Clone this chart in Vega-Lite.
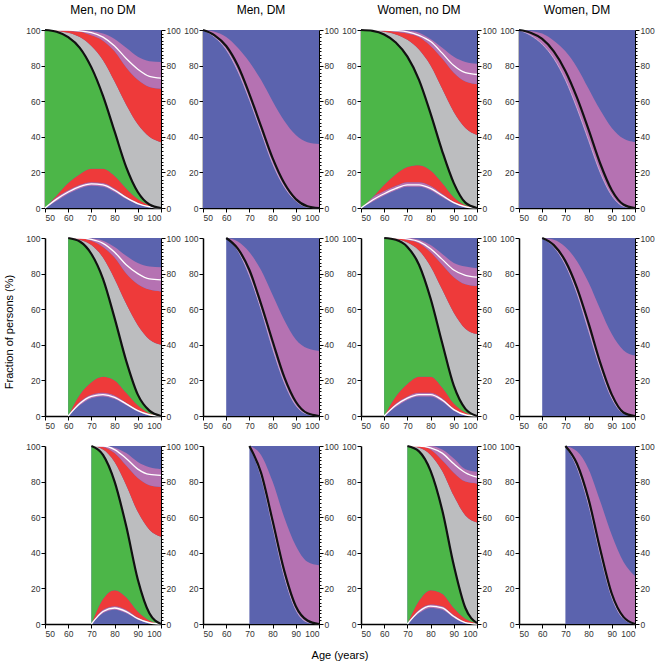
{
  "$schema": "https://vega.github.io/schema/vega-lite/v6.json",
  "background": "white",
  "padding": {"left": 3, "top": 4, "right": 2, "bottom": 2},
  "config": {"font": "Liberation Sans", "view": {"stroke": null}, "axis": {"labelFont": "Liberation Sans", "labelColor": "#333", "labelFontSize": 9, "domainColor": "black", "tickColor": "black", "grid": false, "title": null}},
  "data": {"values": [
    {"g":"Men, no DM","s":50,"x":50,"b1":0,"b2":0,"b3":0,"b4":0,"k":100,"b6":100,"b7":100,"b8":100,"b9":100},
    {"g":"Men, no DM","s":50,"x":55,"b1":4,"b2":5,"b3":6,"b4":7,"k":99,"b6":99.5,"b7":100,"b8":100,"b9":100},
    {"g":"Men, no DM","s":50,"x":60,"b1":8,"b2":9,"b3":10,"b4":14,"k":96,"b6":98.5,"b7":99.5,"b8":100,"b9":100},
    {"g":"Men, no DM","s":50,"x":65,"b1":11,"b2":12,"b3":13,"b4":19,"k":90,"b6":96,"b7":99,"b8":99.5,"b9":100},
    {"g":"Men, no DM","s":50,"x":70,"b1":12.5,"b2":13.5,"b3":14.5,"b4":22,"k":79,"b6":91,"b7":97,"b8":98.5,"b9":99.5},
    {"g":"Men, no DM","s":50,"x":75,"b1":12,"b2":13,"b3":14,"b4":22,"k":63,"b6":83,"b7":94,"b8":96,"b9":98},
    {"g":"Men, no DM","s":50,"x":80,"b1":9,"b2":10,"b3":11,"b4":18,"k":43,"b6":71,"b7":88,"b8":91,"b9":95},
    {"g":"Men, no DM","s":50,"x":85,"b1":5,"b2":5.8,"b3":6.5,"b4":11,"k":23,"b6":58,"b7":79,"b8":84,"b9":90},
    {"g":"Men, no DM","s":50,"x":90,"b1":2,"b2":2.5,"b3":3,"b4":5,"k":9,"b6":47,"b7":72,"b8":78,"b9":85},
    {"g":"Men, no DM","s":50,"x":95,"b1":0.5,"b2":0.7,"b3":0.9,"b4":1.5,"k":2,"b6":40,"b7":68,"b8":74,"b9":82.5},
    {"g":"Men, no DM","s":50,"x":100,"b1":0,"b2":0,"b3":0,"b4":0,"k":0,"b6":37,"b7":67,"b8":73,"b9":82},

    {"g":"Men, DM","s":50,"x":50,"d1":100,"k":100,"d3":100},
    {"g":"Men, DM","s":50,"x":55,"d1":96,"k":97,"d3":99},
    {"g":"Men, DM","s":50,"x":60,"d1":89,"k":91,"d3":96},
    {"g":"Men, DM","s":50,"x":65,"d1":77,"k":80,"d3":90},
    {"g":"Men, DM","s":50,"x":70,"d1":61,"k":64,"d3":82},
    {"g":"Men, DM","s":50,"x":75,"d1":43,"k":46,"d3":72},
    {"g":"Men, DM","s":50,"x":80,"d1":25,"k":28,"d3":60},
    {"g":"Men, DM","s":50,"x":85,"d1":12,"k":14,"d3":49},
    {"g":"Men, DM","s":50,"x":90,"d1":4,"k":5,"d3":41},
    {"g":"Men, DM","s":50,"x":95,"d1":0.5,"k":1,"d3":37},
    {"g":"Men, DM","s":50,"x":100,"d1":0,"k":0,"d3":36},

    {"g":"Women, no DM","s":50,"x":50,"b1":0,"b2":0,"b3":0,"b4":0,"k":100,"b6":100,"b7":100,"b8":100,"b9":100},
    {"g":"Women, no DM","s":50,"x":55,"b1":3.5,"b2":4.5,"b3":6,"b4":6,"k":99.5,"b6":99.8,"b7":100,"b8":100,"b9":100},
    {"g":"Women, no DM","s":50,"x":60,"b1":7,"b2":8,"b3":9.5,"b4":13,"k":97.5,"b6":99,"b7":99.7,"b8":100,"b9":100},
    {"g":"Women, no DM","s":50,"x":65,"b1":10,"b2":11,"b3":12.5,"b4":19,"k":93,"b6":97.5,"b7":99,"b8":99.7,"b9":100},
    {"g":"Women, no DM","s":50,"x":70,"b1":12,"b2":13,"b3":14.5,"b4":23,"k":85,"b6":94.5,"b7":98,"b8":99,"b9":99.7},
    {"g":"Women, no DM","s":50,"x":75,"b1":12,"b2":13,"b3":14.5,"b4":24,"k":72,"b6":89,"b7":96,"b8":97,"b9":98.5},
    {"g":"Women, no DM","s":50,"x":80,"b1":10,"b2":11,"b3":12.5,"b4":21,"k":53,"b6":80,"b7":91,"b8":93.5,"b9":95},
    {"g":"Women, no DM","s":50,"x":85,"b1":6,"b2":7,"b3":8,"b4":14,"k":32,"b6":67,"b7":84,"b8":87,"b9":90},
    {"g":"Women, no DM","s":50,"x":90,"b1":2.5,"b2":3,"b3":3.5,"b4":6,"k":14,"b6":54,"b7":76,"b8":80,"b9":85},
    {"g":"Women, no DM","s":50,"x":95,"b1":0.5,"b2":0.7,"b3":0.9,"b4":1.5,"k":3,"b6":45,"b7":71,"b8":76,"b9":82},
    {"g":"Women, no DM","s":50,"x":100,"b1":0,"b2":0,"b3":0,"b4":0,"k":0,"b6":41,"b7":69.5,"b8":75,"b9":81},

    {"g":"Women, DM","s":50,"x":50,"d1":100,"k":100,"d3":100},
    {"g":"Women, DM","s":50,"x":55,"d1":97,"k":98.5,"d3":99.5},
    {"g":"Women, DM","s":50,"x":60,"d1":92,"k":95,"d3":98},
    {"g":"Women, DM","s":50,"x":65,"d1":84,"k":88,"d3":94},
    {"g":"Women, DM","s":50,"x":70,"d1":72,"k":77,"d3":88},
    {"g":"Women, DM","s":50,"x":75,"d1":56,"k":62,"d3":79},
    {"g":"Women, DM","s":50,"x":80,"d1":38,"k":44,"d3":67},
    {"g":"Women, DM","s":50,"x":85,"d1":20,"k":25,"d3":55},
    {"g":"Women, DM","s":50,"x":90,"d1":7,"k":10,"d3":45},
    {"g":"Women, DM","s":50,"x":95,"d1":1,"k":2,"d3":39},
    {"g":"Women, DM","s":50,"x":100,"d1":0,"k":0,"d3":37},

    {"g":"Men, no DM","s":60,"x":60,"b1":0,"b2":0,"b3":0,"b4":0,"k":100,"b6":100,"b7":100,"b8":100,"b9":100},
    {"g":"Men, no DM","s":60,"x":65,"b1":6,"b2":7,"b3":8,"b4":12,"k":98,"b6":99,"b7":99.8,"b8":100,"b9":100},
    {"g":"Men, no DM","s":60,"x":70,"b1":10,"b2":11,"b3":12,"b4":19,"k":91,"b6":96,"b7":98.5,"b8":99.2,"b9":99.7},
    {"g":"Men, no DM","s":60,"x":75,"b1":11,"b2":12,"b3":13,"b4":22,"k":77,"b6":89,"b7":95,"b8":97,"b9":98.5},
    {"g":"Men, no DM","s":60,"x":80,"b1":9.5,"b2":10.5,"b3":11.5,"b4":20,"k":55,"b6":77,"b7":89,"b8":92,"b9":95},
    {"g":"Men, no DM","s":60,"x":85,"b1":6,"b2":6.8,"b3":7.5,"b4":13,"k":31,"b6":63,"b7":80,"b8":85,"b9":90},
    {"g":"Men, no DM","s":60,"x":90,"b1":2.5,"b2":3,"b3":3.5,"b4":6,"k":12,"b6":51,"b7":74,"b8":80,"b9":86},
    {"g":"Men, no DM","s":60,"x":95,"b1":0.5,"b2":0.7,"b3":0.9,"b4":1.5,"k":3,"b6":43,"b7":71,"b8":77,"b9":84},
    {"g":"Men, no DM","s":60,"x":100,"b1":0,"b2":0,"b3":0,"b4":0,"k":0,"b6":40,"b7":70,"b8":76.5,"b9":83.5},

    {"g":"Men, DM","s":60,"x":60,"d1":100,"k":100,"d3":100},
    {"g":"Men, DM","s":60,"x":65,"d1":93,"k":94,"d3":98},
    {"g":"Men, DM","s":60,"x":70,"d1":79,"k":82,"d3":92},
    {"g":"Men, DM","s":60,"x":75,"d1":60,"k":63,"d3":82},
    {"g":"Men, DM","s":60,"x":80,"d1":38,"k":42,"d3":68},
    {"g":"Men, DM","s":60,"x":85,"d1":19,"k":22,"d3":54},
    {"g":"Men, DM","s":60,"x":90,"d1":6,"k":8,"d3":43},
    {"g":"Men, DM","s":60,"x":95,"d1":1,"k":1.5,"d3":38},
    {"g":"Men, DM","s":60,"x":100,"d1":0,"k":0,"d3":36.5},

    {"g":"Women, no DM","s":60,"x":60,"b1":0,"b2":0,"b3":0,"b4":0,"k":100,"b6":100,"b7":100,"b8":100,"b9":100},
    {"g":"Women, no DM","s":60,"x":65,"b1":5,"b2":6,"b3":7,"b4":11,"k":99,"b6":99.5,"b7":100,"b8":100,"b9":100},
    {"g":"Women, no DM","s":60,"x":70,"b1":9,"b2":10,"b3":11,"b4":18,"k":95,"b6":97.5,"b7":99,"b8":99.5,"b9":100},
    {"g":"Women, no DM","s":60,"x":75,"b1":11,"b2":12,"b3":13,"b4":22,"k":85,"b6":93,"b7":97,"b8":98,"b9":99},
    {"g":"Women, no DM","s":60,"x":80,"b1":11,"b2":12,"b3":13,"b4":22,"k":66,"b6":84,"b7":92,"b8":94,"b9":96},
    {"g":"Women, no DM","s":60,"x":85,"b1":8,"b2":9,"b3":10,"b4":16,"k":41,"b6":71,"b7":85,"b8":88,"b9":91},
    {"g":"Women, no DM","s":60,"x":90,"b1":3,"b2":3.6,"b3":4.2,"b4":7,"k":17,"b6":58,"b7":78,"b8":82,"b9":86},
    {"g":"Women, no DM","s":60,"x":95,"b1":0.5,"b2":0.7,"b3":0.9,"b4":2,"k":4,"b6":49,"b7":74,"b8":79,"b9":84},
    {"g":"Women, no DM","s":60,"x":100,"b1":0,"b2":0,"b3":0,"b4":0,"k":0,"b6":46,"b7":73,"b8":78,"b9":83},

    {"g":"Women, DM","s":60,"x":60,"d1":100,"k":100,"d3":100},
    {"g":"Women, DM","s":60,"x":65,"d1":95,"k":96,"d3":99},
    {"g":"Women, DM","s":60,"x":70,"d1":85,"k":87,"d3":95},
    {"g":"Women, DM","s":60,"x":75,"d1":69,"k":72,"d3":87},
    {"g":"Women, DM","s":60,"x":80,"d1":48,"k":52,"d3":75},
    {"g":"Women, DM","s":60,"x":85,"d1":27,"k":30,"d3":60},
    {"g":"Women, DM","s":60,"x":90,"d1":10,"k":12,"d3":46},
    {"g":"Women, DM","s":60,"x":95,"d1":1.5,"k":2,"d3":37},
    {"g":"Women, DM","s":60,"x":100,"d1":0,"k":0,"d3":34},

    {"g":"Men, no DM","s":70,"x":70,"b1":0,"b2":0,"b3":0,"b4":0,"k":100,"b6":100,"b7":100,"b8":100,"b9":100},
    {"g":"Men, no DM","s":70,"x":75,"b1":6,"b2":7,"b3":8,"b4":14,"k":95,"b6":98,"b7":99.5,"b8":100,"b9":100},
    {"g":"Men, no DM","s":70,"x":80,"b1":8,"b2":9,"b3":10,"b4":19,"k":80,"b6":91,"b7":96,"b8":98,"b9":99},
    {"g":"Men, no DM","s":70,"x":85,"b1":6,"b2":7,"b3":8,"b4":15,"k":55,"b6":78,"b7":89,"b8":93,"b9":96},
    {"g":"Men, no DM","s":70,"x":90,"b1":2.5,"b2":3,"b3":3.6,"b4":7,"k":25,"b6":63,"b7":82,"b8":87,"b9":91},
    {"g":"Men, no DM","s":70,"x":95,"b1":0.5,"b2":0.7,"b3":0.9,"b4":2,"k":6,"b6":53,"b7":78,"b8":84,"b9":88},
    {"g":"Men, no DM","s":70,"x":100,"b1":0,"b2":0,"b3":0,"b4":0,"k":0,"b6":49,"b7":77,"b8":83.5,"b9":87},

    {"g":"Men, DM","s":70,"x":70,"d1":100,"k":100,"d3":100},
    {"g":"Men, DM","s":70,"x":75,"d1":83,"k":85,"d3":95},
    {"g":"Men, DM","s":70,"x":80,"d1":55,"k":58,"d3":80},
    {"g":"Men, DM","s":70,"x":85,"d1":27,"k":30,"d3":60},
    {"g":"Men, DM","s":70,"x":90,"d1":8,"k":10,"d3":44},
    {"g":"Men, DM","s":70,"x":95,"d1":1,"k":2,"d3":35},
    {"g":"Men, DM","s":70,"x":100,"d1":0,"k":0,"d3":33},

    {"g":"Women, no DM","s":70,"x":70,"b1":0,"b2":0,"b3":0,"b4":0,"k":100,"b6":100,"b7":100,"b8":100,"b9":100},
    {"g":"Women, no DM","s":70,"x":75,"b1":6,"b2":7,"b3":8,"b4":13,"k":97,"b6":99,"b7":100,"b8":100,"b9":100},
    {"g":"Women, no DM","s":70,"x":80,"b1":9,"b2":10,"b3":11,"b4":19,"k":86,"b6":95,"b7":98,"b8":99,"b9":100},
    {"g":"Women, no DM","s":70,"x":85,"b1":8,"b2":9,"b3":10,"b4":17,"k":64,"b6":86,"b7":92,"b8":96,"b9":98},
    {"g":"Women, no DM","s":70,"x":90,"b1":3.5,"b2":4.2,"b3":5,"b4":9,"k":33,"b6":72,"b7":85,"b8":90,"b9":93},
    {"g":"Women, no DM","s":70,"x":95,"b1":0.5,"b2":0.8,"b3":1.1,"b4":3,"k":9,"b6":61,"b7":80,"b8":85,"b9":87},
    {"g":"Women, no DM","s":70,"x":100,"b1":0,"b2":0,"b3":0,"b4":0.5,"k":0.5,"b6":57,"b7":79,"b8":82.5,"b9":85.5},

    {"g":"Women, DM","s":70,"x":70,"d1":100,"k":100,"d3":100},
    {"g":"Women, DM","s":70,"x":75,"d1":88,"k":90,"d3":97},
    {"g":"Women, DM","s":70,"x":80,"d1":67,"k":70,"d3":87},
    {"g":"Women, DM","s":70,"x":85,"d1":39,"k":42,"d3":69},
    {"g":"Women, DM","s":70,"x":90,"d1":15,"k":17,"d3":50},
    {"g":"Women, DM","s":70,"x":95,"d1":3,"k":4,"d3":35},
    {"g":"Women, DM","s":70,"x":100,"d1":0,"k":0,"d3":27}
  ]},
  "facet": {
    "column": {"field": "g", "type": "nominal", "sort": ["Men, no DM", "Men, DM", "Women, no DM", "Women, DM"],
      "header": {"title": "Age (years)", "titleOrient": "bottom", "titleFontSize": 11, "titleFontWeight": "normal", "titleFont": "Liberation Sans", "titlePadding": 2, "labelOrient": "top", "labelFontSize": 12, "labelFontWeight": "normal", "labelFont": "Liberation Sans", "labelPadding": 8}},
    "row": {"field": "s", "type": "ordinal",
      "header": {"title": "Fraction of persons (%)", "labels": false, "titleFontSize": 11, "titleFontWeight": "normal", "titleFont": "Liberation Sans", "titlePadding": 0}}
  },
  "spacing": {"column": 2, "row": 11},
  "resolve": {"axis": {"x": "independent", "y": "independent"}},
  "spec": {
    "width": 116,
    "height": 178,
    "encoding": {
      "x": {"field": "x", "type": "quantitative", "scale": {"domain": [50, 100], "nice": false},
        "axis": {"values": [50, 60, 70, 80, 90, 100], "tickSize": 4, "domainWidth": 1.5, "labelPadding": 1, "labelFontSize": 8.5}}
    },
    "layer": [
      {"mark": {"type": "area", "color": "#5b63ae", "interpolate": "monotone"},
        "encoding": {"y": {"datum": 0, "type": "quantitative", "scale": {"domain": [0, 100], "nice": false},
          "axis": {"values": [0, 20, 40, 60, 80, 100], "tickSize": 4, "domainWidth": 1.5, "labelPadding": 1, "labelFontSize": 8.5}}, "y2": {"datum": 100}}},
      {"mark": {"type": "area", "color": "#b572b2", "interpolate": "monotone"},
        "encoding": {"y": {"field": "b1", "type": "quantitative", "axis": null}, "y2": {"field": "b3"}}},
      {"mark": {"type": "area", "color": "#ee3a3a", "interpolate": "monotone"},
        "encoding": {"y": {"field": "b3", "type": "quantitative", "axis": null}, "y2": {"field": "b4"}}},
      {"mark": {"type": "area", "color": "#4cb648", "interpolate": "monotone"},
        "encoding": {"y": {"field": "b4", "type": "quantitative", "axis": null}, "y2": {"field": "k"}}},
      {"mark": {"type": "area", "color": "#bcbdbf", "interpolate": "monotone"},
        "encoding": {"y": {"field": "k", "type": "quantitative", "axis": null}, "y2": {"field": "b6"}}},
      {"mark": {"type": "area", "color": "#ee3a3a", "interpolate": "monotone"},
        "encoding": {"y": {"field": "b6", "type": "quantitative", "axis": null}, "y2": {"field": "b7"}}},
      {"mark": {"type": "area", "color": "#b572b2", "interpolate": "monotone"},
        "encoding": {"y": {"field": "b7", "type": "quantitative", "axis": null}, "y2": {"field": "b9"}}},
      {"mark": {"type": "area", "color": "#b572b2", "interpolate": "monotone"},
        "encoding": {"y": {"field": "d1", "type": "quantitative", "axis": null}, "y2": {"field": "d3"}}},
      {"mark": {"type": "line", "color": "#d9b5dc", "strokeWidth": 0.8, "interpolate": "monotone"},
        "encoding": {"y": {"field": "d1", "type": "quantitative", "axis": null}}},
      {"mark": {"type": "line", "color": "white", "strokeWidth": 1.3, "interpolate": "monotone"},
        "encoding": {"y": {"field": "b2", "type": "quantitative", "axis": null}}},
      {"mark": {"type": "line", "color": "white", "strokeWidth": 1.3, "interpolate": "monotone"},
        "encoding": {"y": {"field": "b8", "type": "quantitative", "axis": null}}},
      {"mark": {"type": "line", "color": "#111", "strokeWidth": 2.2, "interpolate": "monotone"},
        "encoding": {"y": {"field": "k", "type": "quantitative", "axis": null}}},
      {"mark": {"type": "line", "opacity": 0, "interpolate": "monotone"},
        "encoding": {"y": {"field": "k", "type": "quantitative",
          "axis": {"orient": "right", "values": [0,2,4,6,8,10,12,14,16,18,20,22,24,26,28,30,32,34,36,38,40,42,44,46,48,50,52,54,56,58,60,62,64,66,68,70,72,74,76,78,80,82,84,86,88,90,92,94,96,98,100],
            "labelExpr": "datum.value % 20 == 0 ? datum.label : ''",
            "tickSize": {"condition": {"test": "datum.value % 20 == 0", "value": 4}, "value": 2},
            "domainWidth": 1, "labelPadding": 1, "labelFontSize": 8.5}}}}
    ],
    "resolve": {"axis": {"y": "independent"}}
  }
}
